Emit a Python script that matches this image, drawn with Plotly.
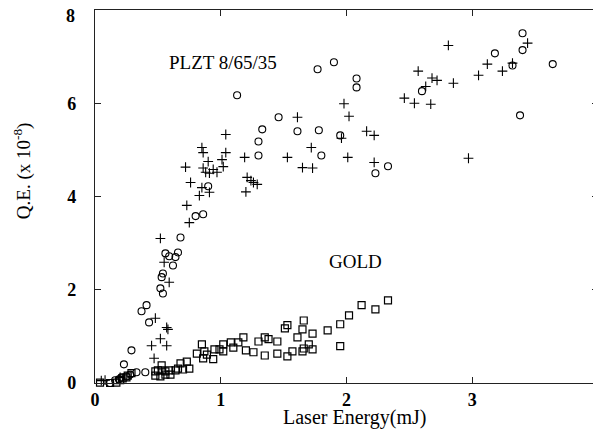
import plotly.graph_objects as go

# PLZT 8/65/35 - open circles
plzt_o_x = [0.12, 0.16, 0.19, 0.21, 0.25, 0.28, 0.33, 0.40, 0.23, 0.29, 0.37, 0.41, 0.43,
            0.54, 0.52, 0.53, 0.54, 0.56, 0.59, 0.64, 0.66, 0.62, 0.68, 0.80, 0.86, 0.90,
            1.13, 1.77, 1.90, 2.08, 2.08, 1.46, 1.33, 1.30, 1.30, 1.61, 1.78, 1.80, 1.95,
            2.33, 2.23, 2.60, 3.40, 3.40, 3.18, 3.32, 3.64, 3.38]
plzt_o_y = [0.00, 0.06, 0.08, 0.12, 0.14, 0.18, 0.23, 0.23, 0.40, 0.70, 1.54, 1.67, 1.30,
            1.92, 2.03, 2.27, 2.35, 2.78, 2.72, 2.70, 2.80, 2.52, 3.12, 3.58, 3.62, 4.22,
            6.17, 6.73, 6.88, 6.53, 6.34, 5.70, 5.44, 5.18, 4.88, 5.40, 5.42, 4.88, 5.31,
            4.65, 4.50, 6.26, 7.50, 7.14, 7.07, 6.81, 6.84, 5.74]

# PLZT 8/65/35 - plus markers
plzt_p_x = [0.05, 0.08, 0.20, 0.47, 0.45, 0.57, 0.52, 0.57, 0.58, 0.48, 0.59, 0.55, 0.52,
            0.75, 0.73, 0.83, 0.85, 0.91, 0.72, 0.85, 0.86, 1.04, 1.04, 0.90, 1.01, 1.02,
            0.86, 0.88, 0.94, 0.97, 0.91, 0.76,
            1.61, 1.72, 1.53, 1.19, 1.65, 1.73, 1.98, 2.02, 1.96, 2.01, 2.16, 2.22, 2.22,
            1.21, 1.24, 1.26, 1.29, 1.20,
            2.81, 2.57, 2.68, 2.72, 2.85, 2.63, 2.46, 2.54, 2.67, 3.05, 3.12, 3.24, 3.32,
            3.44, 2.97]
plzt_p_y = [0.05, 0.06, 0.12, 0.53, 0.80, 0.80, 0.95, 1.19, 1.15, 1.39, 2.16, 2.59, 3.10,
            3.44, 3.81, 4.02, 4.19, 4.09, 4.63, 5.05, 4.94, 5.33, 4.94, 4.75, 4.79, 4.64,
            4.61, 4.52, 4.58, 4.52, 4.50, 4.30,
            5.70, 5.05, 4.84, 4.84, 4.62, 4.61, 5.99, 5.72, 5.25, 4.84, 5.40, 5.31, 4.73,
            4.41, 4.34, 4.30, 4.26, 4.10,
            7.24, 6.69, 6.54, 6.49, 6.43, 6.36, 6.11, 6.00, 5.98, 6.60, 6.84, 6.69, 6.86,
            7.29, 4.82]

# GOLD - open squares
gold_x = [2.33, 2.12, 2.23, 2.02, 1.95, 1.85, 1.73, 1.66, 1.53, 1.51, 1.65, 1.61, 1.70,
          1.66, 1.73, 1.65, 1.57, 1.53, 1.45, 1.35, 1.26, 1.20, 1.45, 1.38, 1.35, 1.30,
          1.18, 1.14, 1.08, 1.10, 1.02, 1.02, 0.99, 0.95, 1.95, 0.87, 0.89, 0.86, 0.94,
          0.85, 0.81,
          0.53, 0.48, 0.50, 0.53, 0.56, 0.59, 0.48, 0.52, 0.56, 0.60, 0.64, 0.66, 0.68,
          0.73, 0.70, 0.75,
          0.04, 0.12, 0.17, 0.20, 0.22, 0.25, 0.26, 0.29]
gold_y = [1.77, 1.67, 1.58, 1.45, 1.26, 1.13, 1.06, 1.34, 1.24, 1.17, 1.15, 0.98, 0.83,
          0.74, 0.72, 0.68, 0.68, 0.57, 0.63, 0.59, 0.66, 0.70, 0.89, 0.94, 0.98, 0.89,
          0.98, 0.87, 0.87, 0.76, 0.83, 0.68, 0.72, 0.72, 0.79, 0.68, 0.61, 0.53, 0.51,
          0.83, 0.63,
          0.38, 0.25, 0.27, 0.27, 0.25, 0.27, 0.16, 0.14, 0.18, 0.18, 0.27, 0.31, 0.42,
          0.46, 0.29, 0.31,
          0.01, 0.00, 0.01, 0.06, 0.10, 0.12, 0.16, 0.21]

x_ticks = [0, 1, 2, 3, 4]
y_ticks = [0, 2, 4, 6, 8]

serif = "Liberation Serif, Times New Roman, serif"

# The page body adds an 8px offset, so the figure is sized to fit the 601x435 window.
OFF = 8
W, H = 601 - OFF, 435 - OFF
L, T = 95 - OFF, 10 - OFF
R = W - (598 - OFF)
B = H - (382.6 - OFF)
PW, PH = W - L - R, H - T - B


def px_x(page_x):
    return (page_x - 95) / PW


def px_y(page_y):
    return (382.6 - page_y) / PH


fig = go.Figure()
fig.add_trace(go.Scatter(x=plzt_o_x, y=plzt_o_y, mode="markers", cliponaxis=False,
                         marker=dict(symbol="circle-open", size=7, color="black",
                                     line=dict(width=1.1, color="black"))))
fig.add_trace(go.Scatter(x=plzt_p_x, y=plzt_p_y, mode="markers", cliponaxis=False,
                         marker=dict(symbol="cross-thin", size=7, color="black",
                                     line=dict(width=1.1, color="black"))))
fig.add_trace(go.Scatter(x=gold_x, y=gold_y, mode="markers", cliponaxis=False,
                         marker=dict(symbol="square-open", size=7, color="black",
                                     line=dict(width=1.2, color="black"))))

fig.add_annotation(x=1.02, y=6.88, text="PLZT 8/65/35", showarrow=False,
                   font=dict(family=serif, size=19, color="black"))
fig.add_annotation(x=2.07, y=2.60, text="GOLD", showarrow=False,
                   font=dict(family=serif, size=19, color="black"))

# axis titles placed as paper-anchored text
fig.add_annotation(xref="paper", yref="paper", x=px_x(354), y=px_y(417),
                   text="Laser Energy(mJ)", showarrow=False, yanchor="middle",
                   font=dict(family=serif, size=20, color="black"))
fig.add_annotation(xref="paper", yref="paper", x=px_x(22), y=px_y(171),
                   text="Q.E. (x 10<sup>-8</sup>)", showarrow=False, textangle=-90,
                   xanchor="center", yanchor="middle",
                   font=dict(family=serif, size=19, color="black"))

tick_font = dict(family=serif, size=18, color="black", weight="bold")

# edge tick labels (top "8" and right "4") drawn as text so they are not clipped
fig.add_annotation(xref="paper", yref="paper", x=px_x(77), y=px_y(16),
                   text=str(y_ticks[-1]), showarrow=False, xanchor="right",
                   yanchor="middle", font=tick_font)
fig.add_annotation(xref="paper", yref="paper", x=px_x(592), y=px_y(393),
                   text=str(x_ticks[-1]), showarrow=False, xanchor="left",
                   yanchor="middle", font=tick_font)

axis_common = dict(showgrid=False, zeroline=False, showline=True, linecolor="#222",
                   linewidth=1.3, mirror="ticks", ticks="inside", ticklen=6,
                   tickcolor="#222", tickwidth=1, automargin=False,
                   ticklabeloverflow="allow", tickfont=tick_font)

fig.update_layout(
    width=W, height=H,
    margin=dict(l=L, r=R, t=T, b=B, pad=0),
    paper_bgcolor="white", plot_bgcolor="white",
    showlegend=False,
    xaxis=dict(range=[0, 4], tickvals=x_ticks,
               ticktext=[str(v) for v in x_ticks[:-1]] + [""],
               ticklabelstandoff=0, **axis_common),
    yaxis=dict(range=[0, 8], tickvals=y_ticks,
               ticktext=[str(v) for v in y_ticks[:-1]] + [""],
               ticklabelstandoff=14, **axis_common),
)

fig.write_html("out.html")
